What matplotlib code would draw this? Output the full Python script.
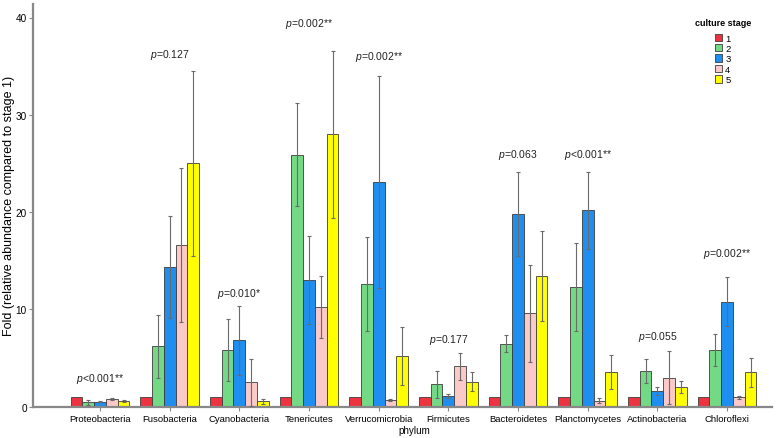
import matplotlib
matplotlib.use("Agg")
import matplotlib.pyplot as plt
from matplotlib.patches import Patch
import numpy as np

plt.rcParams['font.family'] = ['Liberation Sans', 'DejaVu Sans']
plt.rcParams['mathtext.fontset'] = 'custom'
plt.rcParams['mathtext.it'] = 'Liberation Sans:italic'
plt.rcParams['mathtext.rm'] = 'Liberation Sans'

categories = ['Proteobacteria', 'Fusobacteria', 'Cyanobacteria', 'Tenericutes',
              'Verrucomicrobia', 'Firmicutes', 'Bacteroidetes', 'Planctomycetes',
              'Actinobacteria', 'Chloroflexi']
stages = ['1', '2', '3', '4', '5']

stage1 = [1.0, 1.0, 1.0, 1.0, 1.0, 1.0, 1.0, 1.0, 1.0, 1.0]
stage2 = [0.45, 6.2, 5.8, 25.9, 12.6, 2.3, 6.47, 12.3, 3.7, 5.8]
stage3 = [0.52, 14.35, 6.82, 13.0, 23.1, 1.06, 19.8, 20.2, 1.58, 10.8]
stage4 = [0.8, 16.6, 2.52, 10.25, 0.68, 4.14, 9.6, 0.62, 3.0, 0.96]
stage5 = [0.58, 25.0, 0.56, 28.0, 5.2, 2.57, 13.45, 3.53, 1.99, 3.53]

err1 = [0, 0, 0, 0, 0, 0, 0, 0, 0, 0]
err2 = [0.24, 3.2, 3.17, 5.3, 4.8, 1.39, 0.88, 4.56, 1.23, 1.63]
err3 = [0.05, 5.2, 3.58, 4.55, 10.9, 0.2, 4.3, 3.95, 0.4, 2.5]
err4 = [0.08, 7.9, 2.43, 3.15, 0.12, 1.4, 4.97, 0.24, 2.7, 0.12]
err5 = [0.06, 9.5, 0.26, 8.6, 3.0, 0.98, 4.65, 1.76, 0.62, 1.46]

p_labels = ['<0.001**', '=0.127', '=0.010*', '=0.002**', '=0.002**',
            '=0.177', '=0.063', '<0.001**', '=0.055', '=0.002**']
p_y = [2.95, 36.3, 11.7, 39.4, 36.0, 6.96, 26.0, 26.0, 7.3, 15.8]

colors = ['#ee3340', '#74d985', '#1f8ef1', '#fcc9c9', '#ffff00']

fig = plt.figure(figsize=(7.76, 4.39), dpi=100)
ax = fig.add_axes([33/776, 1-407.7/439, (772-33)/776, (407.7-5)/439])

x = np.arange(len(categories))
w = 0.169
series = [stage1, stage2, stage3, stage4, stage5]
errs = [err1, err2, err3, err4, err5]
for i, (vals, er) in enumerate(zip(series, errs)):
    pos = x + (i - 2) * w
    ax.bar(pos, vals, width=w, color=colors[i], edgecolor='#3c3c3c',
           linewidth=0.6, zorder=2)
    if i > 0:
        ax.errorbar(pos, vals, yerr=er, fmt='none', ecolor='#6a6a6a',
                    elinewidth=0.8, capsize=1.5, capthick=0.8, zorder=3)

for xi, lab, yy in zip(x, p_labels, p_y):
    ax.text(xi, yy, '$p$' + lab, ha='center', va='center', fontsize=7.5,
            color='#222222')

ax.set_xlim((33-100)/69.67, (772-100)/69.67)
ax.set_ylim(0, (407.7-5)/9.73)
ax.set_xticks(x)
ax.set_xticklabels(categories, fontsize=6.8)
ax.set_yticks([0, 10, 20, 30, 40])
ax.tick_params(axis='y', labelsize=7.2, length=3, color='#888888', pad=1.5)
ax.tick_params(axis='x', length=3, color='#888888', pad=2)
for s in ['top', 'right']:
    ax.spines[s].set_visible(False)
for s in ['left', 'bottom']:
    ax.spines[s].set_color('#888888')
    ax.spines[s].set_linewidth(1.6)

ax.set_ylabel('Fold (relative abundance compared to stage 1)', fontsize=9.0)
ax.yaxis.set_label_coords((15-33)/739, 0.5)
ax.set_xlabel('phylum', fontsize=7.1)
ax.xaxis.set_label_coords((414-33)/739, -0.046)

handles = [Patch(facecolor=c, edgecolor='#3c3c3c', linewidth=0.6) for c in colors]
leg = ax.legend(handles, stages, title='culture stage', loc='upper left',
                bbox_to_anchor=(688/776, 1-12/439), bbox_transform=fig.transFigure,
                frameon=False, fontsize=6.8, title_fontsize=6.5,
                handlelength=0.8, handleheight=0.8, handletextpad=0.3,
                labelspacing=0.15, borderpad=0.2)
leg.get_title().set_fontweight('bold')
try:
    leg._legend_box.sep = 5
except Exception:
    pass

fig.savefig('out.png', dpi=100)
